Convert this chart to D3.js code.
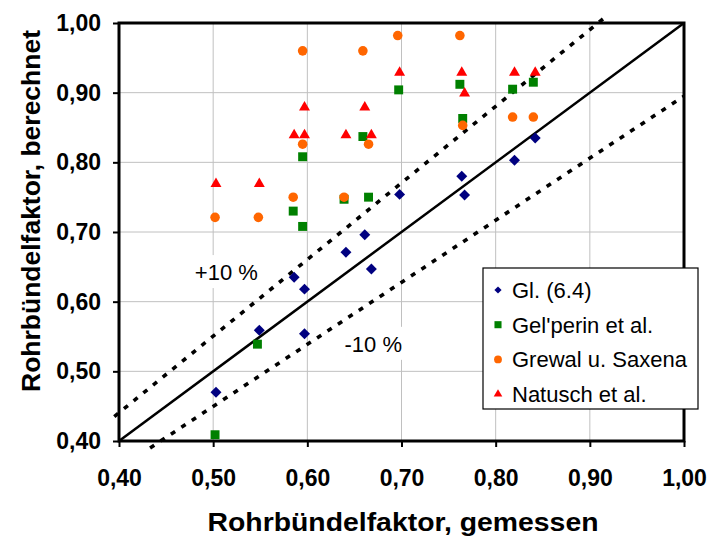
<!DOCTYPE html>
<html>
<head>
<meta charset="utf-8">
<script src="https://cdn.jsdelivr.net/npm/d3@7"></script>
<style>
  body { margin: 0; background: #fff; }
  text { font-family: Arial, "Liberation Sans", sans-serif; }
</style>
</head>
<body>
<div id="chart"></div>
<script>
// measured vs calculated tube bundle factor
var ticks = [0.40, 0.50, 0.60, 0.70, 0.80, 0.90, 1.00];

var glX = [0.503, 0.549, 0.597, 0.597, 0.586, 0.641, 0.661, 0.668, 0.698, 0.764, 0.767, 0.820, 0.842];
var glY = [0.470, 0.559, 0.554, 0.618, 0.635, 0.671, 0.696, 0.647, 0.754, 0.780, 0.753, 0.803, 0.835];

var gelX = [0.502, 0.547, 0.595, 0.585, 0.595, 0.639, 0.665, 0.659, 0.697, 0.762, 0.765, 0.818, 0.840];
var gelY = [0.409, 0.539, 0.708, 0.730, 0.808, 0.747, 0.750, 0.837, 0.904, 0.912, 0.863, 0.905, 0.915];

var grX = [0.502, 0.548, 0.585, 0.595, 0.595, 0.639, 0.659, 0.665, 0.696, 0.762, 0.765, 0.818, 0.840];
var grY = [0.721, 0.721, 0.750, 0.826, 0.960, 0.750, 0.960, 0.826, 0.982, 0.982, 0.853, 0.865, 0.865];

var naX = [0.503, 0.549, 0.586, 0.597, 0.597, 0.641, 0.661, 0.668, 0.698, 0.764, 0.767, 0.820, 0.842];
var naY = [0.769, 0.769, 0.839, 0.839, 0.879, 0.839, 0.879, 0.839, 0.929, 0.929, 0.899, 0.929, 0.929];

var seriesNames = ["Gl. (6.4)", "Gel'perin et al.", "Grewal u. Saxena", "Natusch et al."];

// reference lines: y = x and +/-10 %
var diagX = [0.40, 1.00], diagY = [0.40, 1.00];
var plusX = [0.395, 0.916], plusY = [0.435, 1.008];
var minusX = [0.433, 1.00], minusY = [0.390, 0.895];

var margin = {top: 23, right: 24, bottom: 95, left: 119};
var W = 708, H = 536;
var w = W - margin.left - margin.right;
var h = H - margin.top - margin.bottom;

var svg = d3.select("#chart").append("svg").attr("width", W).attr("height", H);
var g = svg.append("g").attr("transform", "translate(" + margin.left + "," + margin.top + ")");

var x = d3.scaleLinear().domain([0.4, 1.0]).range([0, w]);
var y = d3.scaleLinear().domain([0.4, 1.0]).range([h, 0]);
var fmt = function (d) { return d3.format(".2f")(d).replace(".", ","); };

// grid
g.selectAll("line.gx").data(ticks.slice(1, -1)).enter().append("line")
  .attr("x1", function (d) { return x(d); }).attr("x2", function (d) { return x(d); })
  .attr("y1", 0).attr("y2", h)
  .attr("stroke", "#c0c0c0").attr("stroke-width", 1);
g.selectAll("line.gy").data(ticks.slice(1, -1)).enter().append("line")
  .attr("y1", function (d) { return y(d); }).attr("y2", function (d) { return y(d); })
  .attr("x1", 0).attr("x2", w)
  .attr("stroke", "#c0c0c0").attr("stroke-width", 1);

// text labels with white box (cover the grid)
function boxLabel(txt, vx, vy) {
  var t = g.append("text").attr("x", x(vx)).attr("y", y(vy)).attr("text-anchor", "middle")
    .attr("font-size", "22px").attr("fill", "#000").text(txt);
  var b = t.node().getBBox();
  g.insert("rect", function () { return t.node(); })
    .attr("x", b.x - 5).attr("y", b.y - 5).attr("width", b.width + 10).attr("height", b.height + 8)
    .attr("fill", "#fff");
}
boxLabel("+10 %", 0.514, 0.631);
boxLabel("-10 %", 0.670, 0.528);

// axes
var xAxis = d3.axisBottom(x).tickValues(ticks).tickFormat(fmt).tickSize(6).tickPadding(23);
var yAxis = d3.axisLeft(y).tickValues(ticks).tickFormat(fmt).tickSize(6).tickPadding(12);

var gx = g.append("g").attr("transform", "translate(0," + h + ")").call(xAxis);
var gy = g.append("g").call(yAxis);
[gx, gy].forEach(function (a) {
  a.select(".domain").remove();
  a.selectAll(".tick line").attr("stroke", "#000").attr("stroke-width", 2);
  a.selectAll(".tick text").attr("font-size", "23px").attr("font-weight", "bold")
    .attr("fill", "#000").style("font-family", "Arial, 'Liberation Sans', sans-serif");
});

// reference lines
function refLine(xs, ys, dash) {
  var pts = xs.map(function (d, i) { return [x(d), y(ys[i])]; });
  g.append("path").attr("d", d3.line()(pts))
    .attr("fill", "none").attr("stroke", "#000").attr("stroke-width", dash ? 3.6 : 2.5)
    .attr("stroke-dasharray", dash ? "5,7.5" : null);
}
refLine(plusX, plusY, true);
refLine(minusX, minusY, true);
refLine(diagX, diagY, false);

// plot frame
g.append("rect").attr("x", 0).attr("y", 0).attr("width", w).attr("height", h)
  .attr("fill", "none").attr("stroke", "#000").attr("stroke-width", 3);

// series
var series = [
  {name: seriesNames[0], xs: glX, ys: glY, shape: d3.symbolSquare, rot: 45, color: "#000080", size: 60, lsize: 26},
  {name: seriesNames[1], xs: gelX, ys: gelY, shape: d3.symbolSquare, rot: 0, color: "#008000", size: 80, lsize: 50},
  {name: seriesNames[2], xs: grX, ys: grY, shape: d3.symbolCircle, rot: 0, color: "#ff6600", size: 72, lsize: 48},
  {name: seriesNames[3], xs: naX, ys: naY, shape: d3.symbolTriangle, rot: 0, color: "#ff0000", size: 52, lsize: 32}
];

series.forEach(function (s) {
  g.selectAll(null).data(s.xs).enter().append("path")
    .attr("d", d3.symbol().type(s.shape).size(s.size))
    .attr("transform", function (d, i) {
      return "translate(" + x(d) + "," + y(s.ys[i]) + ") rotate(" + s.rot + ")";
    })
    .attr("fill", s.color);
});

// legend
var lg = svg.append("g").attr("transform", "translate(483,268)");
lg.append("rect").attr("width", 215).attr("height", 141)
  .attr("fill", "#fff").attr("stroke", "#000").attr("stroke-width", 1.2);
series.forEach(function (s, i) {
  var yy = 22 + i * 34.7;
  lg.append("path").attr("d", d3.symbol().type(s.shape).size(s.lsize))
    .attr("transform", "translate(15," + yy + ") rotate(" + s.rot + ")").attr("fill", s.color);
  lg.append("text").attr("x", 29).attr("y", yy + 8)
    .attr("font-size", "22px").attr("fill", "#000").text(s.name);
});

// axis titles
svg.append("text").attr("x", 403).attr("y", 531).attr("text-anchor", "middle")
  .attr("font-size", "26px").attr("font-weight", "bold")
  .attr("textLength", 391).attr("lengthAdjust", "spacingAndGlyphs")
  .text("Rohrbündelfaktor, gemessen");
svg.append("text").attr("transform", "translate(40,211) rotate(-90)").attr("text-anchor", "middle")
  .attr("font-size", "26px").attr("font-weight", "bold")
  .attr("textLength", 362).attr("lengthAdjust", "spacingAndGlyphs")
  .text("Rohrbündelfaktor, berechnet");
</script>
</body>
</html>
